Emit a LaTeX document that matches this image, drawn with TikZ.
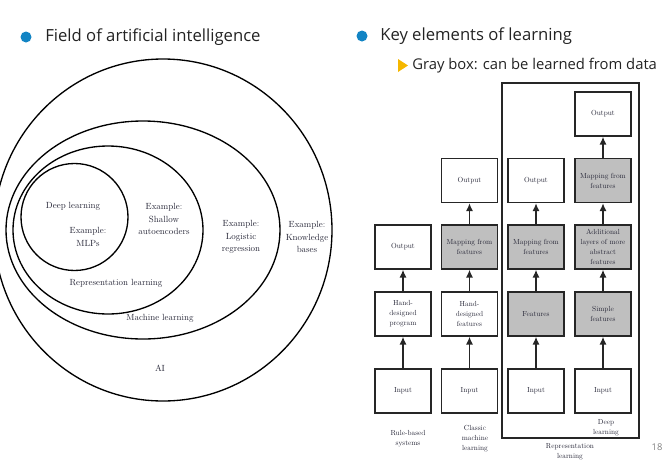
\documentclass[tikz,border=0pt]{standalone}
\usepackage{fontspec}
\newfontfamily\headfont{Open Sans}
\newfontfamily\lmten{lmroman10-regular.otf}
\usepackage{tikz}
\usetikzlibrary{arrows.meta}

\definecolor{bulletblue}{RGB}{18,132,196}
\definecolor{bulletyellow}{RGB}{245,183,0}
\definecolor{headgray}{RGB}{35,35,35}
\definecolor{txt}{RGB}{38,38,55}
\newcommand{\circfont}{\lmten\fontsize{6.7}{9.3}\selectfont}
\newcommand{\boxfont}{\lmten\fontsize{5.5}{7.5}\selectfont}

\tikzset{
  head/.style={font=\headfont\fontsize{12.5}{15}\selectfont, text=headgray, anchor=west, inner sep=0pt},
  field/.style={line width=1pt},
  lbl/.style={font=\circfont, text=txt, align=center, inner sep=0pt},
  box/.style={draw=black!85, line width=1pt, minimum width=42pt, minimum height=33pt,
    inner sep=1pt, align=center, font=\boxfont, text=txt},
  learned/.style={box, fill=gray!50},
  flow/.style={line width=1.3pt, draw=black!85, -{Latex[length=6pt,width=5.5pt]}},
  colname/.style={font=\boxfont, text=txt, align=center, inner sep=0pt}
}

\begin{document}
\begin{tikzpicture}[x=0.75pt,y=-0.75pt]
    \useasboundingbox (0,0) rectangle (665,465);

    % Headings
    \fill[bulletblue] (26,37) circle (5.5);
    \node[head] (h1) at (45,37) {Field of artificial intelligence};
    \fill[bulletblue] (362,36) circle (5.5);
    \node[head] (h2) at (380,36) {Key elements of learning};
    \fill[bulletyellow] (398,59) -- (408,65.5) -- (398,72) -- cycle;
    \node[head, font=\headfont\fontsize{11.1}{14}\selectfont] (h3) at (412,66) {Gray box: can be learned from data};

    % Left: nested fields
    \draw[field] (163,230) ellipse [x radius=169, y radius=171];
    \draw[field] (143,230) ellipse [x radius=137, y radius=109];
    \draw[field] (108,230) ellipse [x radius=95, y radius=84];
    \draw[field] (74.5,217) ellipse [x radius=53.5, y radius=53.5];

    \node[lbl] (dl) at (73,206) {Deep learning};
    \node[lbl] (mlp) at (88,237) {Example:\\MLPs};
    \node[lbl] (sae) at (164,219) {Example:\\Shallow\\autoencoders};
    \node[lbl] (rl) at (116,283) {Representation learning};
    \node[lbl] (logreg) at (241,237) {Example:\\Logistic\\regression};
    \node[lbl] (ml) at (160,318) {Machine learning};
    \node[lbl] (kb) at (307,237) {Example:\\Knowledge\\bases};
    \node[lbl] (ai) at (160,368) {AI};

    % Right: four kinds of systems
    \draw[line width=1pt, draw=black!85] (502,83) rectangle (639,438);

    % Rule-based systems
    \node[box] (in1) at (403,391) {Input};
    \node[box] (prog1) at (403,314) {Hand-\\designed\\program};
    \node[box] (out1) at (403,247) {Output};
    \draw[flow] (in1) -- (prog1);
    \draw[flow] (prog1) -- (out1);

    % Classic machine learning
    \node[box] (in2) at (469.5,391) {Input};
    \node[box] (feat2) at (469.5,314) {Hand-\\designed\\features};
    \node[learned] (map2) at (469.5,247) {Mapping from\\features};
    \node[box] (out2) at (469.5,180.5) {Output};
    \draw[flow] (in2) -- (feat2);
    \draw[flow] (feat2) -- (map2);
    \draw[flow] (map2) -- (out2);

    % Representation learning
    \node[box] (in3) at (536,391) {Input};
    \node[learned] (feat3) at (536,314) {Features};
    \node[learned] (map3) at (536,247) {Mapping from\\features};
    \node[box] (out3) at (536,180.5) {Output};
    \draw[flow] (in3) -- (feat3);
    \draw[flow] (feat3) -- (map3);
    \draw[flow] (map3) -- (out3);

    % Deep learning
    \node[box] (in4) at (603,391) {Input};
    \node[learned] (simple4) at (603,314) {Simple\\features};
    \node[learned] (layers4) at (603,247) {Additional\\layers of more\\abstract\\features};
    \node[learned] (map4) at (603,180.5) {Mapping from\\features};
    \node[box] (out4) at (603,114) {Output};
    \draw[flow] (in4) -- (simple4);
    \draw[flow] (simple4) -- (layers4);
    \draw[flow] (layers4) -- (map4);
    \draw[flow] (map4) -- (out4);

    % Column names
    \node[colname] (rule) at (408,439) {Rule-based\\systems};
    \node[colname] (classic) at (475,439) {Classic\\machine\\learning};
    \node[colname] (repr) at (570,452) {Representation\\learning};
    \node[colname] (deep) at (606,428) {Deep\\learning};

    % Page number
    \node[font=\headfont\fontsize{7}{8}\selectfont, text=gray] (page) at (657,447) {18};
\end{tikzpicture}
\end{document}
